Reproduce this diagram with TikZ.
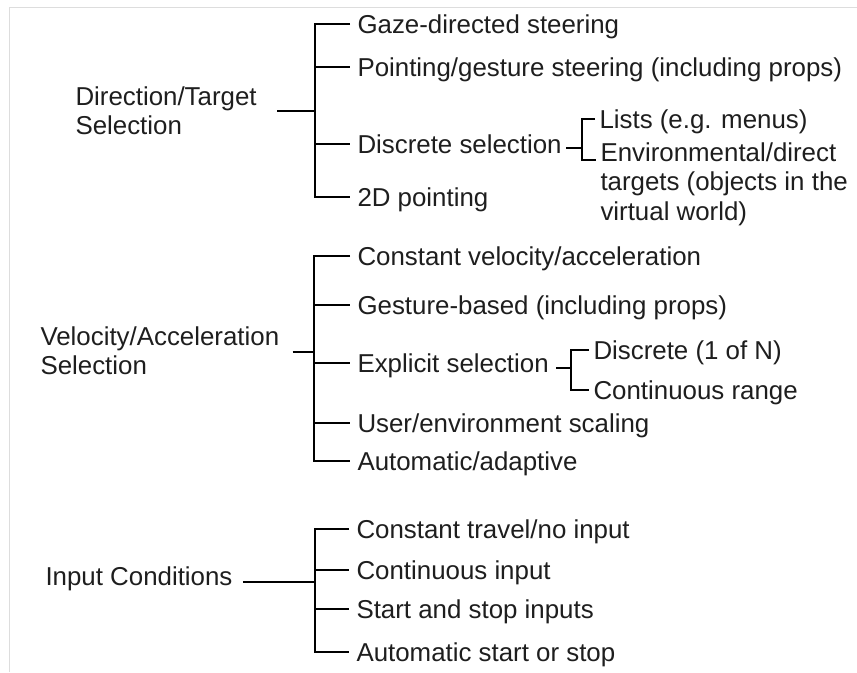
\documentclass[tikz,border=0pt]{standalone}
\usepackage{fontspec}
\setmainfont{Liberation Sans}
\definecolor{txtgray}{RGB}{30,30,30}
\newcommand{\treefont}{\fontsize{19.4}{22.1}\selectfont}
\tikzset{every picture/.style={line width=0.75pt}}
\tikzset{
	leaf/.style={anchor=west, inner xsep=5.25pt, inner ysep=0pt, text height=13.9pt, text depth=0pt, font=\treefont, text=txtgray},
	subleaf/.style={leaf, inner xsep=3pt},
	head/.style={anchor=west, inner sep=0pt, align=left, font=\treefont, text=txtgray},
	tree/.style={line width=2pt},
}

\begin{document}
\begin{tikzpicture}[x=0.75pt,y=0.75pt,yscale=-1,xscale=1]
	\useasboundingbox (0,0) rectangle (857,672);
	%Frame lines
	\draw [color={rgb, 255:red, 221; green, 221; blue, 221 }] (9,672) -- (9,7) -- (857,7) ;

	% Joints
	\coordinate (dirj) at (315,111);
	\coordinate (discj) at (582,148);
	\coordinate (envtip) at (596,160);
	\coordinate (velj) at (314,352);
	\coordinate (explj) at (571,368);
	\coordinate (inpj) at (315,582);

	% Text Node
	\node [head] (dirsel) at (75,111) {Direction/Target\\Selection};
	% Text Node
	\node [leaf] (gaze) at (350,24) {Gaze-directed steering};
	% Text Node
	\node [leaf] (point) at (350,67) {Pointing/gesture steering (including props)};
	% Text Node
	\node [leaf] (discsel) at (350,144) {Discrete selection};
	% Text Node
	\node [leaf] (twod) at (350,197) {2D pointing};
	% Text Node
	\node [subleaf] (lists) at (595,119) {Lists (e.g. menus)};
	% Text Node
	\node [head, anchor=north west, inner xsep=3pt] (env) at (596,142) {Environmental/direct\\targets (objects in the\\virtual world)};

	% Text Node
	\node [head] (velsel) at (40,350.5) {Velocity/Acceleration\\Selection};
	% Text Node
	\node [leaf] (constv) at (350,256) {Constant velocity/acceleration};
	% Text Node
	\node [leaf] (gest) at (350,305) {Gesture-based (including props)};
	% Text Node
	\node [leaf] (explsel) at (350,363) {Explicit selection};
	% Text Node
	\node [leaf] (user) at (350,423) {User/environment scaling};
	% Text Node
	\node [leaf] (autoad) at (350,461) {Automatic/adaptive};
	% Text Node
	\node [subleaf] (discn) at (589,350) {Discrete (1 of N)};
	% Text Node
	\node [subleaf] (contr) at (589,390) {Continuous range};

	% Text Node
	\node [head] (inpcond) at (45,579) {Input Conditions};
	% Text Node
	\node [leaf] (consttr) at (349,529) {Constant travel/no input};
	% Text Node
	\node [leaf] (contin) at (349,570) {Continuous input};
	% Text Node
	\node [leaf] (startstop) at (349,609) {Start and stop inputs};
	% Text Node
	\node [leaf] (autoss) at (349,652) {Automatic start or stop};

	%Brackets: direction/target
	\draw [tree, shorten <=15pt] (dirsel.east |- dirj) -- (dirj) ;
	\draw [tree] (gaze.west) -| (dirj |- twod.west) -- (twod.west) ;
	\draw [tree] (dirj |- point.west) -- (point.west) ;
	\draw [tree] (dirj |- discsel.west) -- (discsel.west) ;
	\draw [tree, shorten <=-2pt] (discsel.east |- discj) -- (discj) ;
	\draw [tree] (lists.west) -| (discj |- envtip) -- (envtip) ;

	%Brackets: velocity/acceleration
	\draw [tree, shorten <=9.75pt] (velsel.east |- velj) -- (velj) ;
	\draw [tree] (constv.west) -| (velj |- autoad.west) -- (autoad.west) ;
	\draw [tree] (velj |- gest.west) -- (gest.west) ;
	\draw [tree] (velj |- explsel.west) -- (explsel.west) ;
	\draw [tree] (velj |- user.west) -- (user.west) ;
	\draw [tree] (explsel.east |- explj) -- (explj) ;
	\draw [tree] (discn.west) -| (explj |- contr.west) -- (contr.west) ;

	%Brackets: input conditions
	\draw [tree, shorten <=7.5pt] (inpcond.east |- inpj) -- (inpj) ;
	\draw [tree] (consttr.west) -| (inpj |- autoss.west) -- (autoss.west) ;
	\draw [tree] (inpj |- contin.west) -- (contin.west) ;
	\draw [tree] (inpj |- startstop.west) -- (startstop.west) ;

\end{tikzpicture}
\end{document}
